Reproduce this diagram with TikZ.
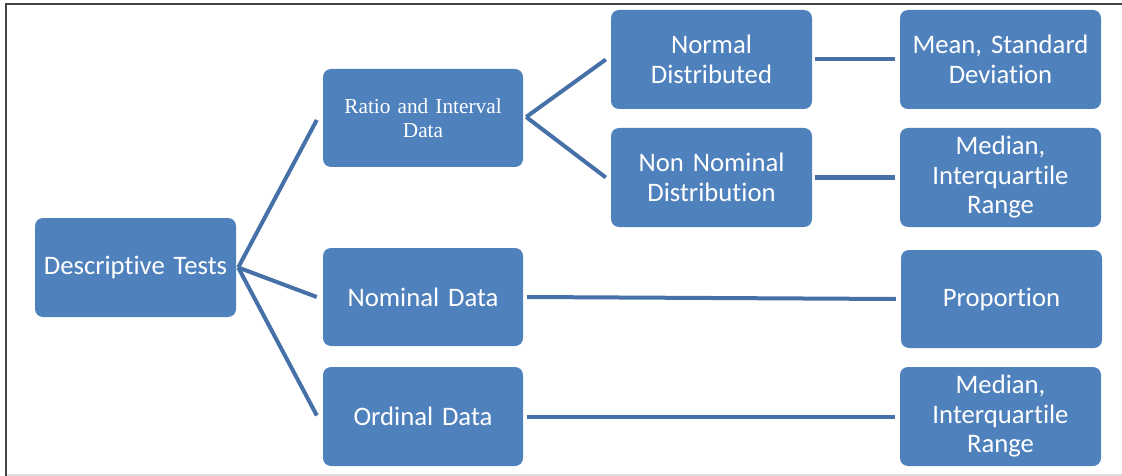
\documentclass[tikz,border=0pt]{standalone}
\usepackage{fontspec}
\setmainfont{Carlito}[Ligatures=NoCommon]
\newfontfamily\timesfont{Liberation Serif}
\definecolor{boxblue}{HTML}{4F81BD}
\definecolor{linkblue}{HTML}{4571A8}
\definecolor{framegray}{HTML}{444444}
\definecolor{framelight}{HTML}{DDDDDD}
\tikzset{
  card/.style={rectangle, rounded corners=8pt, fill=boxblue, text=white,
    minimum width=201pt, minimum height=99pt, inner sep=0pt,
    align=center, text width=196pt,
    font=\fontsize{26.7}{29.5}\selectfont},
  serifcard/.style={card, font=\timesfont\fontsize{21.3}{23.5}\selectfont},
  link/.style={draw=linkblue, line width=4pt}
}
\begin{document}
\begin{tikzpicture}[x=1pt,y=-1pt]
  \useasboundingbox (0,0) rectangle (1122,476);
  % outer frame
  \draw[framelight, line width=1.5pt] (6,475.2) -- (1122,475.2);
  \draw[framegray, line width=1.6pt] (6,476) -- (6,4.3) -- (1122,4.3);

  % boxes
  \node[card] (dt) at (135.5,267.5) {Descriptive Tests};
  \node[serifcard, minimum width=200pt, minimum height=98pt] (ratio) at (423,118) {Ratio and Interval\\Data};
  \node[card] (norm) at (711.5,59.5) {Normal\\Distributed};
  \node[card] (mean) at (1000.5,59.5) {Mean, Standard\\Deviation};
  \node[card] (nonnom) at (711.5,177.5) {Non Nominal\\Distribution};
  \node[card] (med1) at (1000.5,177.5) {Median,\\Interquartile\\Range};
  \node[card, minimum width=200pt, minimum height=98pt] (nom) at (423,297) {Nominal Data};
  \node[card, minimum height=98pt] (prop) at (1001.5,299) {Proportion};
  \node[card, minimum width=200pt] (ord) at (423,416.5) {Ordinal Data};
  \node[card] (med2) at (1000.5,416.5) {Median,\\Interquartile\\Range};

  % connectors
  \coordinate (dtout) at ([xshift=2pt]dt.east);
  \draw[link] (dtout) -- ([xshift=-6pt,yshift=-2pt]ratio.west);
  \draw[link] (dtout) -- ([xshift=-6pt]nom.west);
  \draw[link] (dtout) -- ([xshift=-6pt,yshift=1pt]ord.west);

  \coordinate (ratioout) at ([xshift=3pt,yshift=1pt]ratio.east);
  \draw[link] (ratioout) -- ([xshift=-5pt]norm.west);
  \draw[link] (ratioout) -- ([xshift=-5pt]nonnom.west);

  \draw[link] ([xshift=3pt]norm.east) -- ([xshift=-5pt]mean.west);
  \draw[link] ([xshift=3pt]nonnom.east) -- ([xshift=-5pt]med1.west);
  \draw[link] ([xshift=4pt]nom.east) -- ([xshift=-5pt]prop.west);
  \draw[link] ([xshift=4pt]ord.east) -- ([xshift=-5pt]med2.west);
\end{tikzpicture}
\end{document}
